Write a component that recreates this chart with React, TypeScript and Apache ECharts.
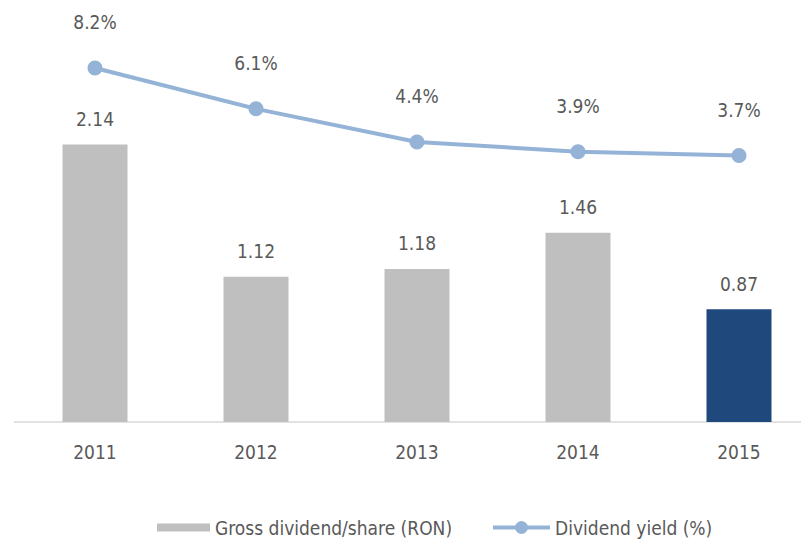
import React, { useEffect, useRef } from "react";
import * as echarts from "echarts";

const years = ["2011", "2012", "2013", "2014", "2015"];
const dividendPerShare = [2.14, 1.12, 1.18, 1.46, 0.87];
const dividendYield = [8.2, 6.1, 4.4, 3.9, 3.7];
const barColors = ["#BFBFBF", "#BFBFBF", "#BFBFBF", "#BFBFBF", "#1F497D"];

const FONT = "'Liberation Sans Narrow', 'DejaVu Sans Condensed', 'Arial Narrow', sans-serif";
const TEXT = "#595959";

export default function App() {
  const ref = useRef<HTMLDivElement>(null);
  useEffect(() => {
    if (!ref.current) return;
    const chart = echarts.init(ref.current, undefined, { renderer: "svg" });
    chart.setOption({
      animation: false,
      textStyle: { fontFamily: FONT },
      grid: { left: 14.5, right: 0.5, top: 33, bottom: 119, containLabel: false },
      legend: [
        {
          data: ["Gross dividend/share (RON)"],
          left: 152,
          top: 513,
          itemWidth: 53,
          itemHeight: 8,
          itemGap: 0,
          icon: "rect",
          textStyle: { color: TEXT, fontSize: 19, fontFamily: FONT },
        },
        {
          data: ["Dividend yield (%)"],
          left: 486,
          top: 513,
          itemWidth: 57,
          itemHeight: 16,
          lineStyle: { width: 4, color: "#95B3D7" },
          textStyle: { color: TEXT, fontSize: 19, fontFamily: FONT },
        },
      ],
      xAxis: {
        type: "category",
        data: years,
        axisLine: { lineStyle: { color: "#D9D9D9", width: 1.5 } },
        axisTick: { show: false },
        axisLabel: { color: TEXT, fontSize: 19, margin: 20, fontFamily: FONT },
      },
      yAxis: [
        { type: "value", min: 0, max: 3, show: false, splitLine: { show: false } },
        { type: "value", min: -10, max: 10, show: false, splitLine: { show: false } },
      ],
      series: [
        {
          name: "Gross dividend/share (RON)",
          type: "bar",
          yAxisIndex: 0,
          barWidth: 65,
          itemStyle: { color: "#BFBFBF" },
          data: dividendPerShare.map((v, i) => ({ value: v, itemStyle: { color: barColors[i] } })),
          label: {
            show: true,
            position: "top",
            distance: 16,
            color: TEXT,
            fontSize: 19,
            fontFamily: FONT,
            formatter: (p: any) => p.value.toFixed(2),
          },
        },
        {
          name: "Dividend yield (%)",
          type: "line",
          yAxisIndex: 1,
          data: dividendYield,
          symbol: "circle",
          symbolSize: 15,
          lineStyle: { color: "#95B3D7", width: 4 },
          itemStyle: { color: "#95B3D7" },
          label: {
            show: true,
            position: "top",
            distance: 29,
            color: TEXT,
            fontSize: 19,
            fontFamily: FONT,
            formatter: (p: any) => p.value.toFixed(1) + "%",
          },
        },
      ],
    });
    return () => chart.dispose();
  }, []);
  return (
    <div style={{ position: "absolute", left: 0, top: 0, width: 801, height: 541, overflow: "hidden" }}>
      <div ref={ref} style={{ width: 820, height: 541 }} />
    </div>
  );
}
